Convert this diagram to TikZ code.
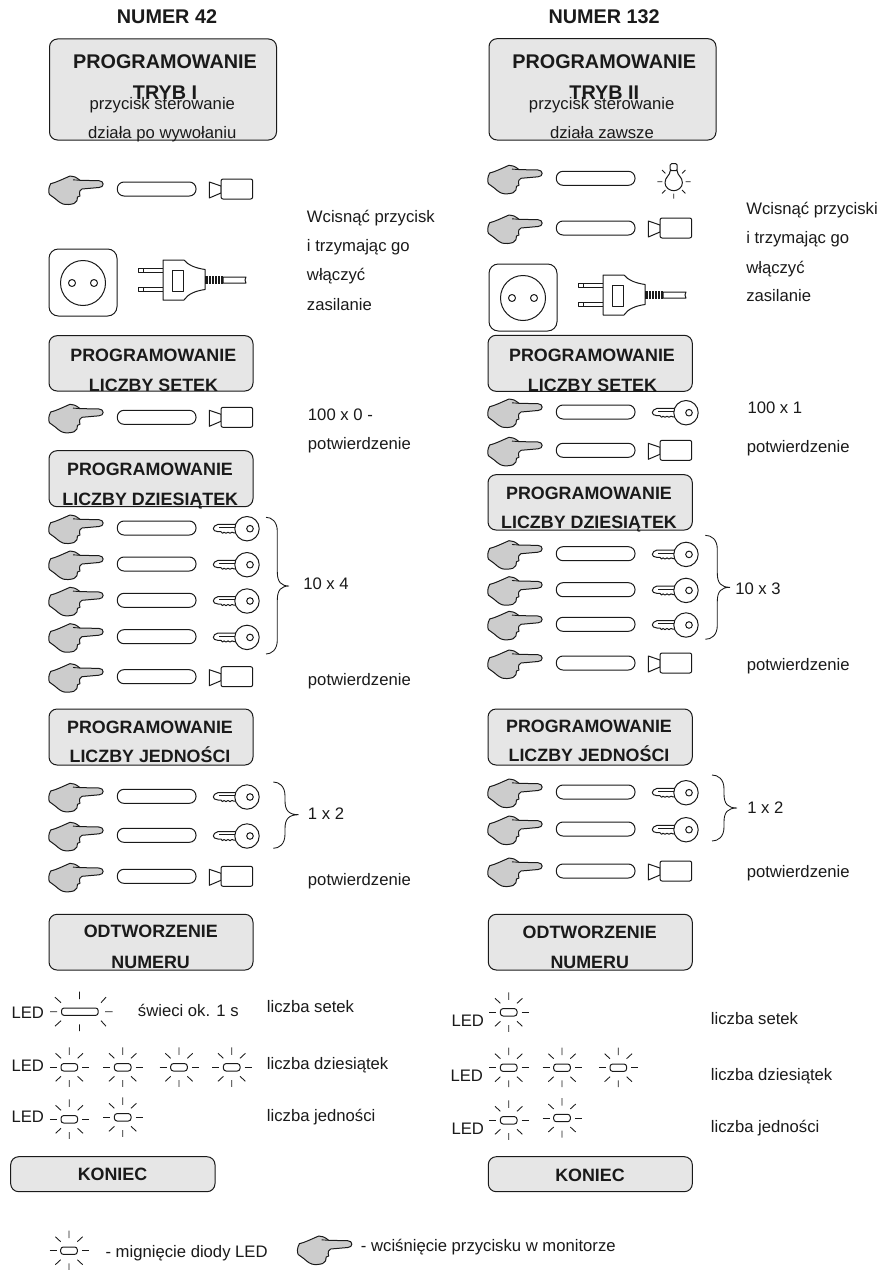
\documentclass[tikz,border=0pt]{standalone}
\usepackage{fontspec}
\setmainfont{Liberation Sans}
\definecolor{boxfill}{HTML}{E6E6E6}
\definecolor{handfill}{HTML}{CCCCCC}
\definecolor{ink}{HTML}{1A1A1A}
\tikzset{
  outline/.style={draw=ink,line width=0.75pt,line join=round},
  thinline/.style={draw=ink,line width=0.65pt},
  panel/.style={outline,fill=boxfill,rounded corners=6pt},
  bigtitle/.style={inner sep=0pt,anchor=base,font=\fontsize{14.85}{16}\selectfont\bfseries,text=ink},
  midtitle/.style={inner sep=0pt,anchor=base,font=\fontsize{13.4}{15}\selectfont\bfseries,text=ink},
  smalltext/.style={inner sep=0pt,anchor=base,font=\fontsize{12.5}{14}\selectfont,text=ink},
  labeltext/.style={inner sep=0pt,anchor=base west,font=\fontsize{12.5}{14}\selectfont,text=ink}
}
% hand: top-left corner at (#1,#2)
\newcommand{\handsym}[2]{\begin{scope}[shift={(#1,#2)}]
  \draw[outline,fill=handfill] (1.7,7.7) .. controls (7,6.5) and (14,3) .. (21,0) .. controls (24,-0.2) and (27,1) .. (31,4.3) -- (50,4.7) .. controls (55.5,4.7) and (55.5,11.5) .. (50,11.5) -- (33,13) .. controls (31,14) and (30,16) .. (30.5,17.5) -- (31,20) -- (28.5,21) .. controls (28.5,24) and (28,26) .. (25,27.5) .. controls (22,28.5) and (17,29) .. (14,28) .. controls (10,26.5) and (8,24) .. (6,22.5) -- (0.5,18.5) .. controls (-0.7,16) and (-0.7,12) .. (1.7,7.7) -- cycle;
  \draw[thinline] (24,3.8) -- (31,4.3);
\end{scope}}
% pill relative to hand
\newcommand{\pillsym}[2]{\draw[outline,fill=white,rounded corners=5pt] (#1+68.3,#2+6) rectangle (#1+147,#2+20);}
% camera / button body relative to hand
\newcommand{\camsym}[2]{\begin{scope}[shift={(#1,#2)}]
  \draw[outline,fill=white] (160.3,6) -- (172,10) -- (172,17) -- (160.3,22) -- cycle;
  \draw[outline,fill=white,rounded corners=1.5pt] (172,3) rectangle (203.7,23);
\end{scope}}
% key relative to hand
\newcommand{\keysym}[2]{\begin{scope}[shift={(#1+201,#2+13.7)}]
  \draw[outline,fill=white] (-13,-4.4) -- (-32,-4.4) .. controls (-35,-4) and (-36.7,-1.5) .. (-36.7,0) .. controls (-36.7,1.5) and (-35,2.8) .. (-32,3) -- (-29,3) -- (-27.5,4.6) -- (-26,3.5) -- (-24,4.6) -- (-22,3.5) -- (-20,4.6) -- (-18,3.5) -- (-16,4.2) -- (-13,4) -- cycle;
  \draw[thinline] (-31,-1.4) -- (-14,-1.4);
  \draw[outline,fill=white] (-3,0) circle (12.2);
  \draw[outline] (0,0) circle (3.3);
\end{scope}}
% one whole row
\newcommand{\rowcam}[2]{\handsym{#1}{#2}\pillsym{#1}{#2}\camsym{#1}{#2}}
\newcommand{\rowkey}[2]{\handsym{#1}{#2}\pillsym{#1}{#2}\keysym{#1}{#2}}
% flashing LED
\newcommand{\ledsym}[2]{\begin{scope}[shift={(#1,#2)}]
  \draw[thinline] (0,-20) -- (0,-12.5) (0,12.7) -- (0,19.5)
    (-13.7,-14) -- (-8.3,-9) (13.7,-14) -- (8.3,-9)
    (-13.7,14) -- (-8.3,9) (13.7,14) -- (8.3,9);
  \draw[thinline] (-19.5,0) -- (-12.5,0) (12.8,0) -- (20,0);
  \draw[outline,fill=white,rounded corners=2pt] (-8.3,-3.7) rectangle (8.3,3.7);
\end{scope}}
\newcommand{\socketplug}[2]{\begin{scope}[shift={(#1,#2)}]
  \draw[outline,fill=white,rounded corners=7pt] (0,0) rectangle (68,67);
  \draw[outline] (34,34) circle (22.5);
  \draw[outline] (23,34) circle (3.5) (45,34) circle (3.5);
  \draw[outline,fill=white] (89,19) rectangle (114,23.7);
  \draw[thinline] (94,19) -- (94,23.7);
  \draw[outline,fill=white] (89,38) rectangle (114,42.7);
  \draw[thinline] (94,38) -- (94,42.7);
  \draw[outline,fill=white] (114,11) -- (135,11) .. controls (139,16) and (146,19) .. (156,20.5) -- (156,40.5) .. controls (146,42) and (139,45) .. (135,51) -- (114,51) -- cycle;
  \draw[outline,fill=white] (123,21) rectangle (134,42);
  \draw[outline,fill=white] (174,28) -- (197,28) -- (196,31) -- (197,34) -- (174,34) -- cycle;
  \fill[ink] (156,27) rectangle (174,35);
  \foreach \q in {159,162,165,168,171}{\draw[white,line width=0.55pt] (\q,27) -- (\q,35);}
\end{scope}}
\newcommand{\bulbsym}[2]{\begin{scope}[shift={(#1,#2)}]
  \draw[outline,fill=white,rounded corners=1pt] (-3.5,-18) rectangle (3.5,-11);
  \draw[outline,fill=white] (-3.5,-11) .. controls (-3.5,-6) and (-8.7,-5) .. (-8.7,1) .. controls (-8.7,6) and (-4,9) .. (0,9) .. controls (4,9) and (8.7,6) .. (8.7,1) .. controls (8.7,-5) and (3.5,-6) .. (3.5,-11) -- cycle;
  \draw[thinline] (-16.3,0) -- (-11.3,0) (12,0) -- (17,0) (0,12) -- (0,17)
    (-11.7,-11.7) -- (-8.3,-8.3) (11.7,-11.7) -- (8.3,-8.3)
    (-11.7,11.7) -- (-8.3,8.3) (11.7,11.7) -- (8.3,8.3);
\end{scope}}
% brace: x-left, y-top, x-spine, x-tip, y-tip, y-bottom
\newcommand{\bracesym}[6]{\draw[thinline] (#1,#2) .. controls (#3-6,#2) and (#3,#2+4) .. (#3,#2+14) -- (#3,#5-14) .. controls (#3,#5-4) and (#3+4,#5) .. (#4,#5) .. controls (#3+4,#5) and (#3,#5+4) .. (#3,#5+14) -- (#3,#6-14) .. controls (#3,#6-4) and (#3-6,#6) .. (#1,#6);}
\begin{document}
\begin{tikzpicture}[x=0.75pt,y=-0.75pt]
\useasboundingbox (0,0) rectangle (882,1270);
\fill[white] (0,0) rectangle (882,1270);
% ---------- headers
\node[bigtitle] (hl) at (167,24) {NUMER 42};
\node[bigtitle] (hr) at (604.2,24) {NUMER 132};
% ---------- left panels
\draw[panel] (49.5,39) rectangle (276.5,140);
\node[bigtitle] (l1a) at (165,69) {PROGRAMOWANIE};
\node[bigtitle] (l1b) at (165,99.3) {TRYB I};
\node[smalltext] (l1c) at (162.3,109) {przycisk sterowanie};
\node[smalltext] (l1d) at (162.3,138) {działa po wywołaniu};
\draw[panel] (49,335.7) rectangle (253,391);
\node[midtitle] (l2a) at (153.3,361) {PROGRAMOWANIE};
\node[midtitle] (l2b) at (153.5,391.5) {LICZBY SETEK};
\draw[panel] (49,450.7) rectangle (253,506.7);
\node[midtitle] (l3a) at (150,475) {PROGRAMOWANIE};
\node[midtitle] (l3b) at (150.3,505) {LICZBY DZIESIĄTEK};
\draw[panel] (49,709) rectangle (253,765);
\node[midtitle] (l4a) at (150,733) {PROGRAMOWANIE};
\node[midtitle] (l4b) at (150,762) {LICZBY JEDNOŚCI};
\draw[panel] (49,914.3) rectangle (253,970);
\node[midtitle] (l5a) at (150.8,937.7) {ODTWORZENIE};
\node[midtitle] (l5b) at (150.7,968) {NUMERU};
\draw[panel] (10.7,1156.7) rectangle (215,1191.7);
\node[midtitle] (l6a) at (112.5,1180.7) {KONIEC};
% ---------- right panels
\draw[panel] (489,38.7) rectangle (716,140);
\node[bigtitle] (r1a) at (604.2,69) {PROGRAMOWANIE};
\node[bigtitle] (r1b) at (604.3,99.3) {TRYB II};
\node[smalltext] (r1c) at (601.7,109) {przycisk sterowanie};
\node[smalltext] (r1d) at (602,138) {działa zawsze};
\draw[panel] (488,335.3) rectangle (692.3,391.3);
\node[midtitle] (r2a) at (592,361.5) {PROGRAMOWANIE};
\node[midtitle] (r2b) at (592.5,391) {LICZBY SETEK};
\draw[panel] (488,474.7) rectangle (692.3,530);
\node[midtitle] (r3a) at (589,499) {PROGRAMOWANIE};
\node[midtitle] (r3b) at (589,528.3) {LICZBY DZIESIĄTEK};
\draw[panel] (488,709) rectangle (692.3,765);
\node[midtitle] (r4a) at (589,732.7) {PROGRAMOWANIE};
\node[midtitle] (r4b) at (589,761.7) {LICZBY JEDNOŚCI};
\draw[panel] (488.3,914.3) rectangle (692.3,970);
\node[midtitle] (r5a) at (589.7,938) {ODTWORZENIE};
\node[midtitle] (r5b) at (589.7,968) {NUMERU};
\draw[panel] (488.3,1156.7) rectangle (692.3,1191.7);
\node[midtitle] (r6a) at (590,1181) {KONIEC};
% ---------- left rows
\rowcam{49}{176}
\socketplug{49}{249}
\rowcam{49}{404.3}
\rowkey{49}{515}
\rowkey{49}{551}
\rowkey{49}{587.3}
\rowkey{49}{623.7}
\rowcam{49}{663.7}
\rowkey{49}{783.3}
\rowkey{49}{822.3}
\rowcam{49}{863.3}
% ---------- right rows
\handsym{488}{165.3}\pillsym{488}{165.3}\bulbsym{673.7}{181.7}
\rowcam{488}{215}
\socketplug{489}{264}
\rowkey{488}{399}
\rowcam{488}{437.3}
\rowkey{488}{540.7}
\rowkey{488}{576.7}
\rowkey{488}{611.3}
\rowcam{488}{650}
\rowkey{488}{779}
\rowkey{488}{816}
\rowcam{488}{858}
% ---------- braces
\bracesym{266}{517.3}{277.3}{289}{586}{654}
\bracesym{273.3}{782}{285}{298.7}{814.7}{848.3}
\bracesym{705.3}{535.3}{717.3}{730}{587.3}{639.3}
\bracesym{712}{775}{724}{737}{808}{841}
% ---------- left notes
\node[labeltext] (n1) at (306.7,222) {Wcisnąć przycisk};
\node[labeltext] (n2) at (306.7,251) {i trzymając go};
\node[labeltext] (n3) at (306.7,280) {włączyć};
\node[labeltext] (n4) at (306.7,310) {zasilanie};
\node[labeltext] (n5) at (307.7,420) {100 x 0 -};
\node[labeltext] (n6) at (307.7,449) {potwierdzenie};
\node[labeltext] (n7) at (303,589.3) {10 x 4};
\node[labeltext] (n8) at (307.7,685) {potwierdzenie};
\node[labeltext] (n9) at (307.7,819.3) {1 x 2};
\node[labeltext] (n10) at (307.7,885) {potwierdzenie};
% ---------- right notes
\node[labeltext] (m1) at (746,214) {Wcisnąć przyciski};
\node[labeltext] (m2) at (746,243) {i trzymając go};
\node[labeltext] (m3) at (746,273) {włączyć};
\node[labeltext] (m4) at (746,301.7) {zasilanie};
\node[labeltext] (m5) at (747.3,413) {100 x 1};
\node[labeltext] (m6) at (746.5,452) {potwierdzenie};
\node[labeltext] (m7) at (735,594) {10 x 3};
\node[labeltext] (m8) at (746.5,670) {potwierdzenie};
\node[labeltext] (m9) at (747,813) {1 x 2};
\node[labeltext] (m10) at (746.5,877) {potwierdzenie};
% ---------- LED left
\node[labeltext] (a1) at (11.3,1018) {LED};
\node[labeltext] (a2) at (11.3,1071) {LED};
\node[labeltext] (a3) at (11.3,1122) {LED};
\begin{scope}[shift={(79.5,1011.7)}]
  \draw[thinline] (0,-20) -- (0,-12.5) (0,12.7) -- (0,19.5)
    (-29.5,0) -- (-22.5,0) (25.5,0) -- (33,0)
    (-24.5,-14.5) -- (-18.5,-9) (26.5,-14.5) -- (21.5,-9)
    (-24.5,14.5) -- (-18.5,9) (26.5,14.5) -- (21.5,9);
  \draw[outline,fill=white,rounded corners=2pt] (-18,-3.7) rectangle (18.7,3.7);
\end{scope}
\ledsym{69.3}{1067.3}\ledsym{122.7}{1067.3}\ledsym{179}{1067.3}\ledsym{231.7}{1067.3}
\ledsym{69.3}{1119.3}\ledsym{122.7}{1117.3}
\node[labeltext] (a4) at (137.7,1016) {świeci ok. 1 s};
\node[labeltext] (a5) at (266.7,1012.7) {liczba setek};
\node[labeltext] (a6) at (266.7,1069) {liczba dziesiątek};
\node[labeltext] (a7) at (266.7,1121) {liczba jedności};
% ---------- LED right
\node[labeltext] (b1) at (451.3,1026) {LED};
\node[labeltext] (b2) at (450.3,1081.7) {LED};
\node[labeltext] (b3) at (451.3,1134.7) {LED};
\ledsym{508.7}{1012.3}
\ledsym{508.7}{1067.7}\ledsym{562}{1067.7}\ledsym{618.3}{1067.7}
\ledsym{508.7}{1120.3}\ledsym{562}{1118}
\node[labeltext] (b5) at (710.7,1024) {liczba setek};
\node[labeltext] (b6) at (710.7,1080) {liczba dziesiątek};
\node[labeltext] (b7) at (710.7,1132) {liczba jedności};
% ---------- legend
\ledsym{69}{1250.7}
\node[labeltext] (c1) at (105.3,1257) {- mignięcie diody LED};
\handsym{297.7}{1236}
\node[labeltext] (c2) at (360.7,1251.7) {- wciśnięcie przycisku w monitorze};
\end{tikzpicture}
\end{document}
